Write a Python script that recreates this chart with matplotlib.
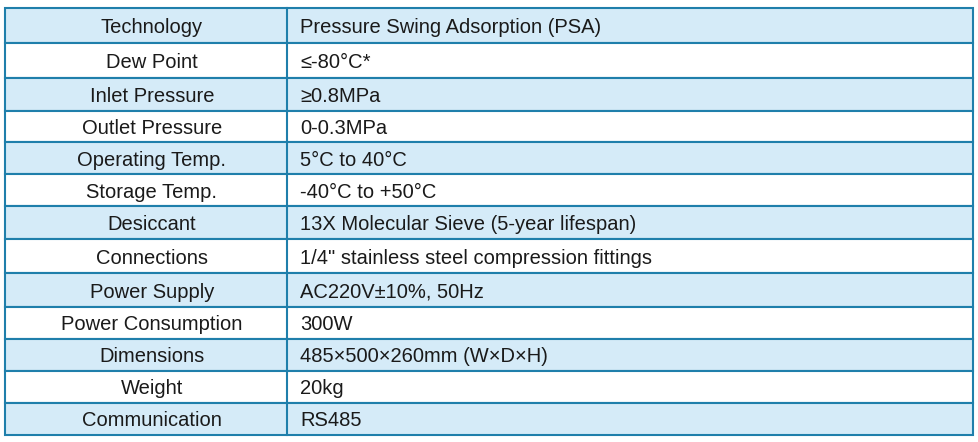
import matplotlib
matplotlib.use("Agg")
import matplotlib.pyplot as plt
from matplotlib.patches import Rectangle

labels = ["Technology", "Dew Point", "Inlet Pressure", "Outlet Pressure", "Operating Temp.",
          "Storage Temp.", "Desiccant", "Connections", "Power Supply", "Power Consumption",
          "Dimensions", "Weight", "Communication"]
values = ["Pressure Swing Adsorption (PSA)", "≤-80°C*", "≥0.8MPa", "0-0.3MPa", "5°C to 40°C",
          "-40°C to +50°C", "13X Molecular Sieve (5-year lifespan)",
          "1/4\" stainless steel compression fittings", "AC220V±10%, 50Hz", "300W",
          "485×500×260mm (W×D×H)", "20kg", "RS485"]
row_edges = [8, 43, 78, 111, 142, 174, 206, 239, 273, 307, 339, 371, 403, 435]

W, H = 979, 442
fig = plt.figure(figsize=(W / 100, H / 100), dpi=100)
ax = fig.add_axes([0, 0, 1, 1])
ax.set_xlim(0, W)
ax.set_ylim(H, 0)
ax.axis("off")

left, mid, right = 5, 287, 973
border = "#1f7fab"
for i, (lab, val) in enumerate(zip(labels, values)):
    top, bot = row_edges[i], row_edges[i + 1]
    face = "#d5ebf8" if i % 2 == 0 else "white"
    ax.add_patch(Rectangle((left, top), right - left, bot - top, facecolor=face,
                           edgecolor=border, lw=1.5))
    yc = (top + bot) / 2 + 2
    ax.text(152, yc, lab, ha="center", va="center", fontsize=14.5,
            family="Liberation Sans", color="#1a1a1a")
    ax.text(300, yc, val, ha="left", va="center", fontsize=14.5,
            family="Liberation Sans", color="#1a1a1a")
ax.plot([mid, mid], [row_edges[0], row_edges[-1]], color=border, lw=1.5)

fig.savefig("out.png", dpi=100)
